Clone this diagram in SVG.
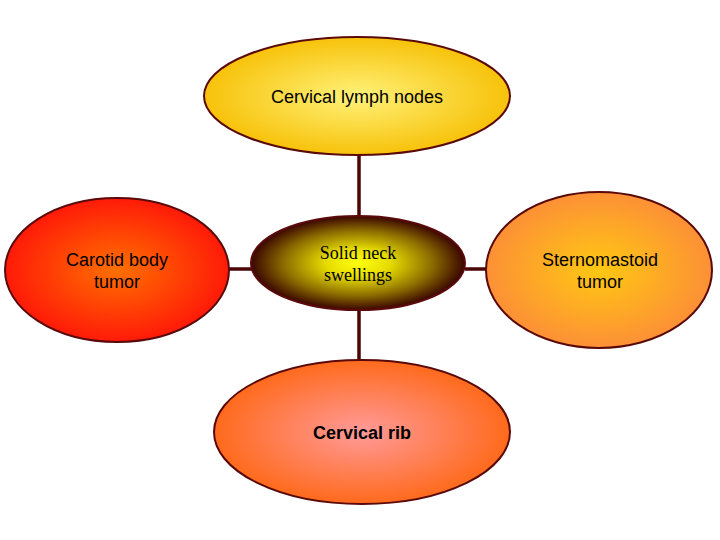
<svg xmlns="http://www.w3.org/2000/svg" width="720" height="540" viewBox="0 0 720 540">
<style>
.node{stroke:#5a0a0a;stroke-width:2}
.conn{stroke:#4a0505;stroke-width:3.5;fill:none}
.t{font-family:"Liberation Sans",Arial,sans-serif;font-size:18px;fill:#000;text-anchor:middle}
.s{font-family:"Liberation Serif","Times New Roman",serif;font-size:18px;fill:#000;text-anchor:middle}
</style>
<defs>
<radialGradient id="gTop" cx="50%" cy="50%" r="50%"><stop offset="0" stop-color="#fff27a"/><stop offset="1" stop-color="#f7c20a"/></radialGradient>
<radialGradient id="gLeft" cx="50%" cy="50%" r="50%"><stop offset="0" stop-color="#ff7000"/><stop offset="1" stop-color="#ff1a08"/></radialGradient>
<radialGradient id="gRight" cx="50%" cy="50%" r="50%"><stop offset="0" stop-color="#ffc812"/><stop offset="1" stop-color="#fc9036"/></radialGradient>
<radialGradient id="gBottom" cx="50%" cy="50%" r="50%"><stop offset="0" stop-color="#ff9a9a"/><stop offset="1" stop-color="#ff6a1c"/></radialGradient>
<radialGradient id="gCenter" cx="50%" cy="50%" r="50%"><stop offset="0" stop-color="#ffff10"/><stop offset="0.3" stop-color="#e6dc00"/><stop offset="0.7" stop-color="#8a6a00"/><stop offset="1" stop-color="#3a0500"/></radialGradient>
</defs>
<rect width="720" height="540" fill="#fff"/>
<g id="connectors">
<line class="conn" x1="359" y1="154" x2="359" y2="217"/>
<line class="conn" x1="359" y1="309" x2="359" y2="361"/>
<line class="conn" x1="228" y1="269" x2="253" y2="269"/>
<line class="conn" x1="465" y1="269" x2="486" y2="269"/>
</g>
<g id="cervical-lymph-nodes">
<ellipse class="node" cx="357" cy="96" rx="153" ry="59" fill="url(#gTop)"/>
<text class="t" x="357" y="103">Cervical lymph nodes</text>
</g>
<g id="carotid-body-tumor">
<ellipse class="node" cx="117" cy="270" rx="112" ry="72" fill="url(#gLeft)"/>
<text class="t" x="117" y="266">Carotid body</text>
<text class="t" x="117" y="288">tumor</text>
</g>
<g id="solid-neck-swellings">
<ellipse class="node" cx="358" cy="263" rx="107" ry="47" fill="url(#gCenter)"/>
<text class="s" x="358" y="259">Solid neck</text>
<text class="s" x="358" y="281">swellings</text>
</g>
<g id="sternomastoid-tumor">
<ellipse class="node" cx="599" cy="270" rx="113" ry="78" fill="url(#gRight)"/>
<text class="t" x="600" y="266">Sternomastoid</text>
<text class="t" x="600" y="288">tumor</text>
</g>
<g id="cervical-rib">
<ellipse class="node" cx="362" cy="432" rx="148" ry="72" fill="url(#gBottom)"/>
<text class="t" x="362" y="439" font-weight="bold">Cervical rib</text>
</g>
</svg>
